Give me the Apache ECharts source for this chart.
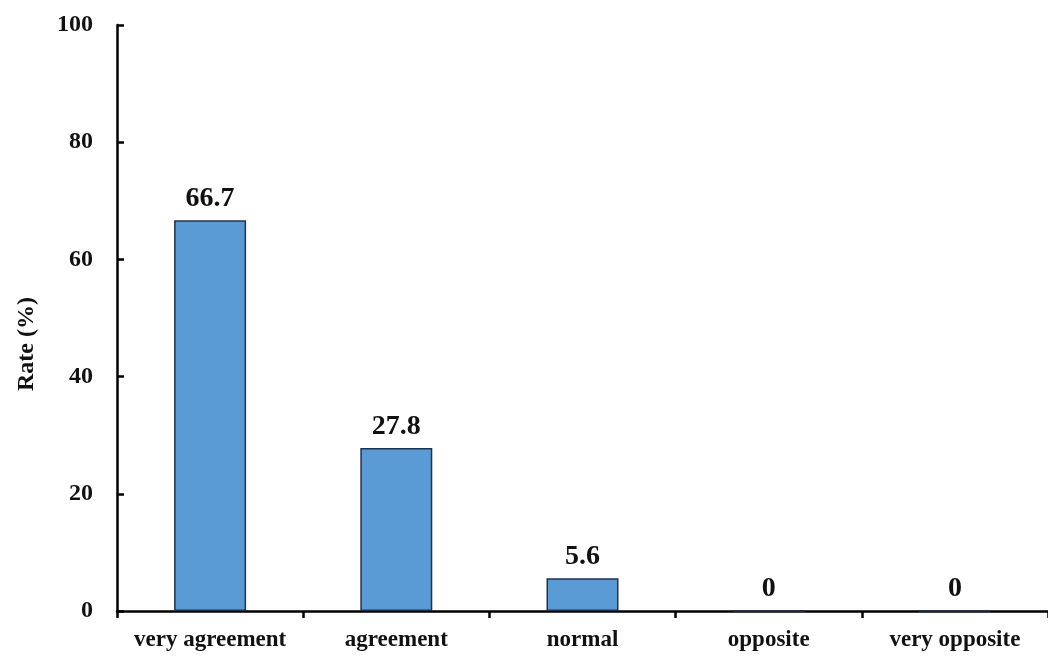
<!DOCTYPE html>
<html>
<head>
<meta charset="utf-8">
<script src="https://cdn.jsdelivr.net/npm/echarts@6/dist/echarts.min.js"></script>
<style>
  html, body { margin: 0; padding: 0; background: #fff; }
  #chart { width: 1048px; height: 661px; }
</style>
</head>
<body>
<div id="chart"></div>
<script>
// Survey response categories and their share (%)
const categories = ['very agreement', 'agreement', 'normal', 'opposite', 'very opposite'];
const rates = [66.7, 27.8, 5.6, 0, 0];
const yTicks = [0, 20, 40, 60, 80, 100];

const serif = '"Liberation Serif", "Times New Roman", serif';

const chart = echarts.init(document.getElementById('chart'), null, { renderer: 'canvas' });

chart.setOption({
  backgroundColor: '#ffffff',
  animation: false,
  grid: { left: 117, top: 25, width: 933, height: 586, containLabel: false },
  xAxis: {
    type: 'category',
    data: categories,
    axisLine: { lineStyle: { color: '#000', width: 2.5 } },
    axisTick: { show: true, interval: 0, alignWithLabel: false, inside: false, length: 7, lineStyle: { color: '#000', width: 2.5 } },
    axisLabel: {
      interval: 0,
      hideOverlap: false,
      color: '#111', fontFamily: serif, fontWeight: 'bold', fontSize: 23, margin: 18
    }
  },
  yAxis: {
    type: 'value',
    min: yTicks[0],
    max: yTicks[yTicks.length - 1],
    interval: 20,
    splitLine: { show: false },
    axisLine: { show: true, lineStyle: { color: '#000', width: 2.5 } },
    axisTick: { show: true, inside: true, length: 7, lineStyle: { color: '#000', width: 2.5 } },
    axisLabel: {
      color: '#111', fontFamily: serif, fontWeight: 'bold', fontSize: 24, margin: 24
    }
  },
  series: [{
    type: 'bar',
    data: rates,
    barWidth: 72,
    itemStyle: { color: '#5b9bd5', borderColor: '#1f3350', borderWidth: 1.5 },
    label: {
      show: true,
      position: 'top',
      distance: 7,
      color: '#111',
      fontFamily: serif,
      fontWeight: 'bold',
      fontSize: 28
    }
  }],
  graphic: [{
    type: 'text',
    x: 27,
    y: 344,
    rotation: Math.PI / 2,
    style: {
      text: 'Rate (%)',
      fill: '#111',
      font: 'bold 24px ' + serif,
      textAlign: 'center',
      textVerticalAlign: 'middle'
    }
  }]
});
</script>
</body>
</html>
